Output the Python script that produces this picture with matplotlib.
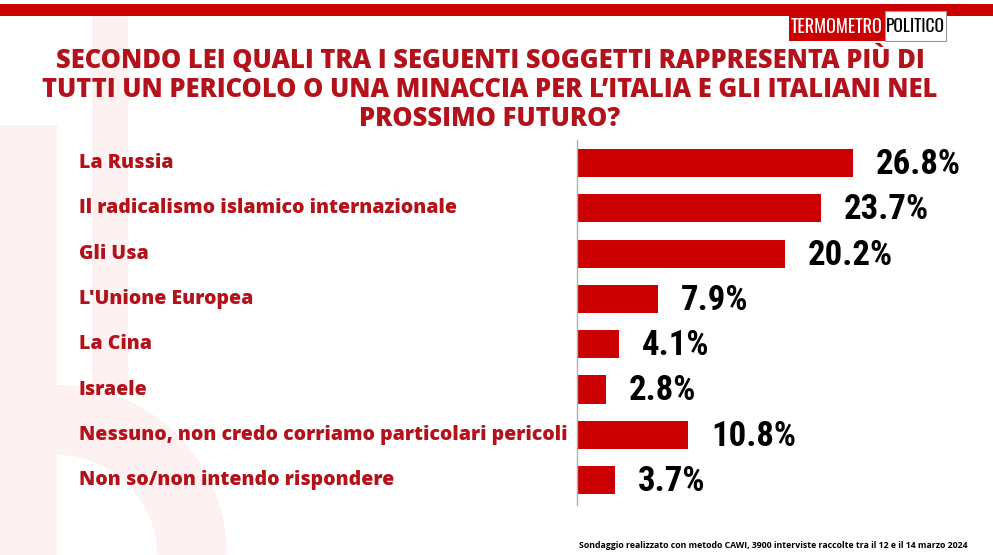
import matplotlib.pyplot as plt
import matplotlib.transforms as mtransforms
from matplotlib.patches import Rectangle, Wedge

categories = ["La Russia", "Il radicalismo islamico internazionale", "Gli Usa",
              "L'Unione Europea", "La Cina", "Israele",
              "Nessuno, non credo corriamo particolari pericoli",
              "Non so/non intendo rispondere"]
values = [26.8, 23.7, 20.2, 7.9, 4.1, 2.8, 10.8, 3.7]

title = ("SECONDO LEI QUALI TRA I SEGUENTI SOGGETTI RAPPRESENTA PIÙ DI\n"
         "TUTTI UN PERICOLO O UNA MINACCIA PER L’ITALIA E GLI ITALIANI NEL\n"
         "PROSSIMO FUTURO?")
note = "Sondaggio realizzato con metodo CAWI, 3900 interviste raccolte tra il 12 e il 14 marzo 2024"

RED = "#cc0000"
LABEL_RED = "#b3121b"
PINK = "#fdf1f1"
W, H = 993, 555


def fx(x):
    return x / W


def fy(y):
    return 1 - y / H


fig = plt.figure(figsize=(9.93, 5.55), dpi=100)
fig.patch.set_facecolor("white")

# background layer in pixel coordinates (y down)
bg = fig.add_axes([0, 0, 1, 1], zorder=-1)
bg.set_xlim(0, W)
bg.set_ylim(H, 0)
bg.axis("off")
bg.add_patch(Rectangle((0, 125), 57, 430, facecolor=PINK, edgecolor="none"))
bg.add_patch(Rectangle((92, 16), 36, 370, facecolor=PINK, edgecolor="none"))
bg.add_patch(Wedge((57, 555), 170, 270, 360, width=70, facecolor=PINK, edgecolor="none"))
bg.add_patch(Rectangle((0, 4), W, 12, facecolor=RED, edgecolor="none"))

# logo
bg.add_patch(Rectangle((789, 11), 96, 30, facecolor=RED, edgecolor="none"))
bg.add_patch(Rectangle((885, 11), 61, 30, facecolor="white", edgecolor="#9a9a9a", linewidth=0.8))
bg.text(837, 27, "TERMOMETRO", ha="center", va="center", color="white",
        fontsize=13, family="Oswald")
bg.text(915.5, 27, "POLITICO", ha="center", va="center", color="black",
        fontsize=12.5, family="Oswald")

fig.text(fx(490), fy(88.5), title, ha="center", va="center", color=LABEL_RED,
         fontsize=18.4, fontweight=800, family="Open Sans", linespacing=1.15)

ax = fig.add_axes([fx(577), fy(505), fx(990 - 577), (505 - 140) / H])
ax.patch.set_alpha(0)
ypos = list(range(len(categories)))
ax.barh(ypos, values, height=0.62, color=RED)
ax.set_xlim(0, (990 - 577) / 10.3)
ax.set_ylim(7.55, -0.51)
for s in ["top", "right", "bottom"]:
    ax.spines[s].set_visible(False)
ax.spines["left"].set_color("#b0b0b0")
ax.spines["left"].set_linewidth(1)
ax.set_xticks([])
ax.set_yticks([])

lab_tr = mtransforms.blended_transform_factory(fig.transFigure, ax.transData)
for y, v, c in zip(ypos, values, categories):
    ax.annotate(f"{v:.1f}%", (v, y), xytext=(16.5, -1), textcoords="offset points",
                ha="left", va="center", fontsize=25, fontweight="bold",
                family="Roboto Condensed", color="black")
    ax.text(fx(79), y, c, transform=lab_tr, ha="left", va="center", fontsize=14,
            fontweight=800, family="Open Sans", color=LABEL_RED, clip_on=False)

fig.text(fx(968), fy(546), note, ha="right", va="center", fontsize=6.3,
         fontweight="bold", family="Open Sans", color="black")

fig.savefig("out.png", dpi=100)
